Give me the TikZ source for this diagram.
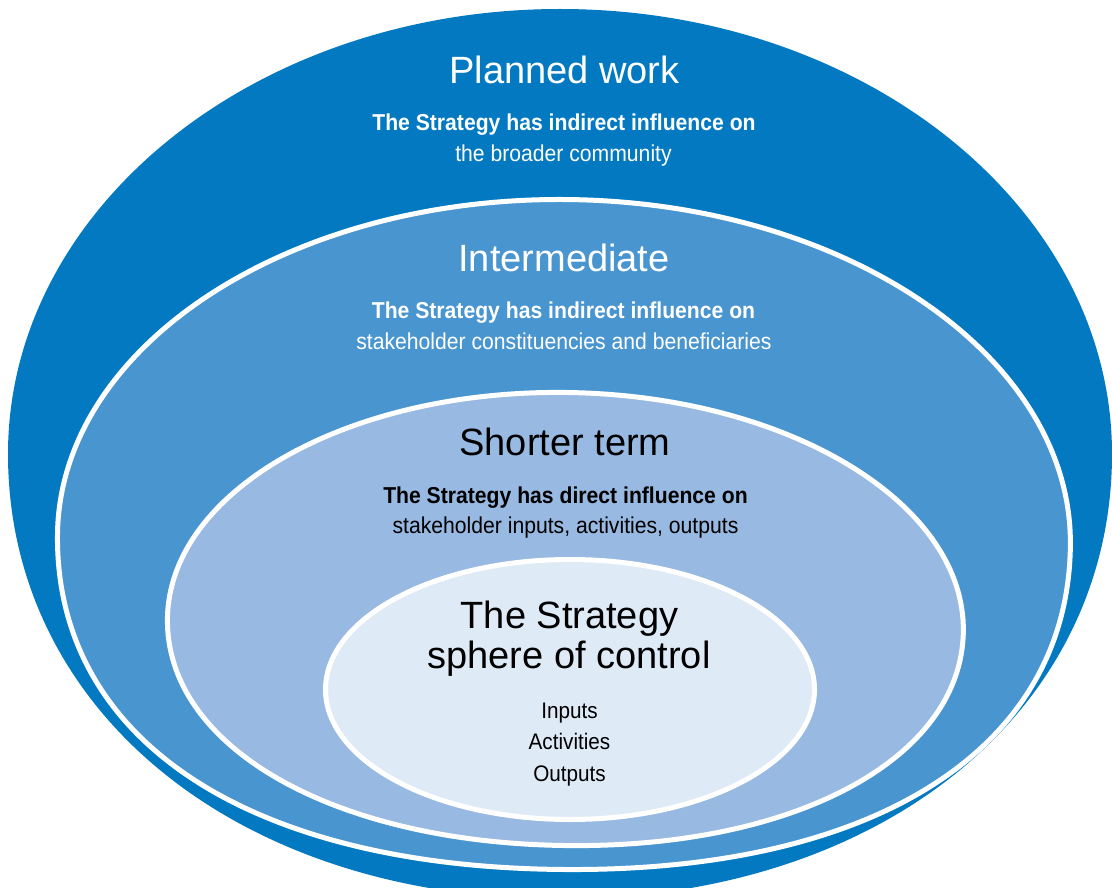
\documentclass[tikz,border=0pt]{standalone}
\usepackage{fontspec}
\setmainfont{Liberation Sans}
\newfontfamily\condfont[FakeStretch=0.92]{Liberation Sans}
\definecolor{cdark}{RGB}{2,121,193}
\definecolor{cmid}{RGB}{73,149,208}
\definecolor{clight}{RGB}{151,185,226}
\definecolor{cinner}{RGB}{223,234,247}
\tikzset{
  ring/.style={draw=white, line width=5pt, line join=round},
  headtext/.style={font=\fontsize{38}{40}\selectfont, anchor=base, inner sep=0pt},
  boldtext/.style={font=\condfont\fontsize{23}{25}\selectfont\bfseries, anchor=base, inner sep=0pt},
  bodytext/.style={font=\condfont\fontsize{23}{25}\selectfont, anchor=base, inner sep=0pt},
  listtext/.style={font=\condfont\fontsize{22.5}{25}\selectfont, anchor=base, inner sep=0pt},
}
\begin{document}
\begin{tikzpicture}[x=1pt,y=-1pt]
\useasboundingbox (0,0) rectangle (1112,888);
\clip (0,0) rectangle (1112,888);
% outer region (Planned work)
\fill[cdark] (8,454) .. controls (8,208.2) and (255.1,9) .. (560,9)
  .. controls (864.9,9) and (1112,208.2) .. (1112,454)
  .. controls (1112,712.1) and (880.2,899) .. (560,899)
  .. controls (239.8,899) and (8,712.1) .. (8,454) -- cycle;
% intermediate region
\filldraw[fill=cmid, ring, rotate around={-0.6:(564,534)}]
  (57.5,540) .. controls (57.5,351.9) and (284.3,199.5) .. (564,199.5)
  .. controls (843.7,199.5) and (1070.5,351.9) .. (1070.5,540)
  .. controls (1070.5,744.3) and (878.0,869.5) .. (564,869.5)
  .. controls (250.0,869.5) and (57.5,744.3) .. (57.5,540) -- cycle;
% shorter term region
\filldraw[fill=clight, ring, rotate around={-1:(565.5,619)}]
  (167.5,625) .. controls (167.5,496.6) and (345.7,392.5) .. (565.5,392.5)
  .. controls (785.3,392.5) and (963.5,496.6) .. (963.5,625)
  .. controls (963.5,752.9) and (796.3,845.5) .. (565.5,845.5)
  .. controls (334.7,845.5) and (167.5,752.9) .. (167.5,625) -- cycle;
% sphere of control
\filldraw[fill=cinner, ring] (570,689.5) ellipse [x radius=244.5pt, y radius=130pt];
% Planned work
\node[headtext, text=white] (pw) at (564.5,84) {Planned work};
\node[boldtext, text=white] (pwb) at (564,131) {The Strategy has indirect influence on};
\node[bodytext, text=white] (pwr) at (563.5,162) {the broader community};
% Intermediate
\node[headtext, text=white] (im) at (564,271) {Intermediate};
\node[boldtext, text=white] (imb) at (563.5,318) {The Strategy has indirect influence on};
\node[bodytext, text=white] (imr) at (564,349) {stakeholder constituencies and beneficiaries};
% Shorter term
\node[headtext, text=black] (st) at (565,455) {Shorter term};
\node[boldtext, text=black] (stb) at (565.5,503) {The Strategy has direct influence on};
\node[bodytext, text=black] (str) at (565.5,533) {stakeholder inputs, activities, outputs};
% Sphere of control
\node[headtext, text=black] (sc1) at (569.5,628) {The Strategy};
\node[headtext, text=black] (sc2) at (569,668) {sphere of control};
\node[listtext, text=black] (l1) at (569.5,718) {Inputs};
\node[listtext, text=black] (l2) at (569.5,749) {Activities};
\node[listtext, text=black] (l3) at (569.5,781) {Outputs};
\end{tikzpicture}
\end{document}
